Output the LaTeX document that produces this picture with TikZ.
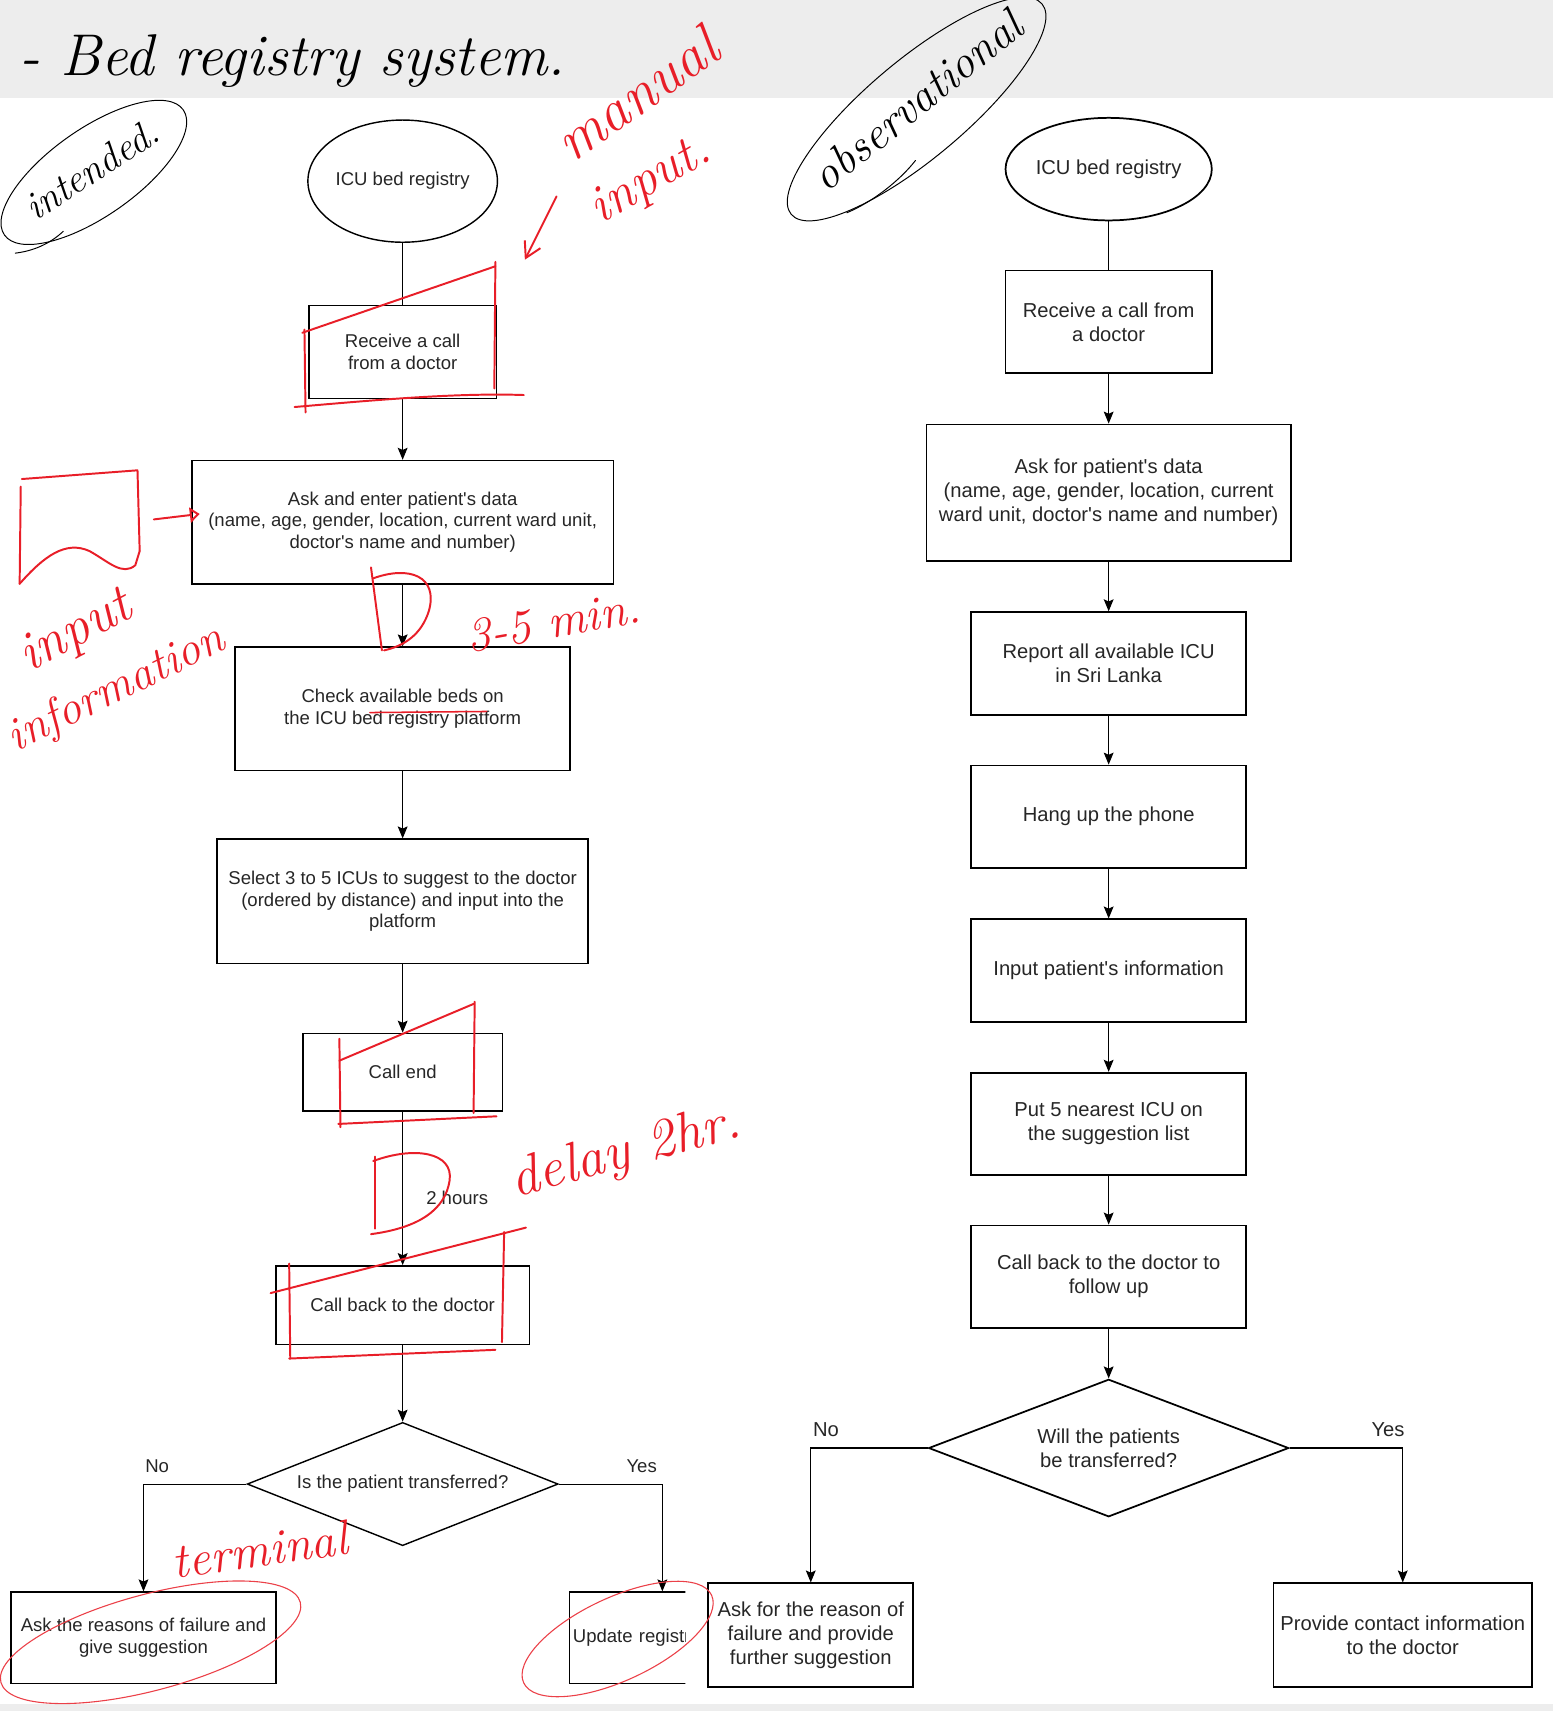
\documentclass[tikz,border=0pt]{standalone}
\usepackage{fontspec}
\newfontfamily\flowfont{Liberation Sans}
\usetikzlibrary{shapes.geometric,arrows.meta}
\definecolor{inkred}{RGB}{232,30,40}
\definecolor{band}{RGB}{237,237,237}
\def\lcol{369}
\def\rcol{1016}

\begin{document}
\begin{tikzpicture}[x=1pt,y=-1pt,
  lbox/.style={draw, line width=1.3pt, align=center, inner sep=2pt, text=black!85, font=\flowfont\fontsize{17}{20}\selectfont},
  rbox/.style={draw, line width=1.6pt, align=center, inner sep=2pt, text=black!85, font=\flowfont\fontsize{18.5}{22}\selectfont},
  flow/.style={line width=1pt, -{Stealth[length=11pt,width=9pt,inset=2pt]}},
  link/.style={line width=1pt},
  lbl/.style={font=\flowfont\fontsize{17}{18}\selectfont, text=black!85, inner sep=0},
  redpen/.style={draw=inkred, line width=1.8pt, line cap=round, line join=round},
  redthin/.style={draw=inkred!85, line width=1pt},
  blackpen/.style={draw=black, line width=1.1pt, line cap=round},
  hand/.style={font=\itshape\fontsize{#1}{#1}\selectfont, inner sep=0}]
\useasboundingbox (0,0) rectangle (1423,1568);
\fill[band] (0,0) rectangle (1423,90);
\fill[band] (0,1562) rectangle (1423,1568);

% intended flow
\node[lbox, ellipse, inner sep=0, minimum width=172, minimum height=112] (lreg) at (\lcol,166) {ICU bed registry};
\node[lbox, minimum width=172, minimum height=85] (lcall) at (\lcol,322.5) {Receive a call\\from a doctor};
\node[lbox, minimum width=386, minimum height=113] (lask) at (\lcol,478.5) {Ask and enter patient's data\\(name, age, gender, location, current ward unit,\\doctor's name and number)};
\node[lbox, minimum width=307, minimum height=113] (lcheck) at (\lcol,649.5) {Check available beds on\\the ICU bed registry platform};
\node[lbox, minimum width=340, minimum height=114] (lsel) at (\lcol,826) {Select 3 to 5 ICUs to suggest to the doctor\\(ordered by distance) and input into the\\platform};
\node[lbox, minimum width=183, minimum height=71] (lend) at (\lcol,982.5) {Call end};
\node[lbox, minimum width=232, minimum height=72] (lback) at (\lcol,1196) {Call back to the doctor};
\node[lbox, diamond, shape aspect=2.52, minimum width=285, minimum height=113, inner sep=0] (ldec) at (\lcol,1360) {Is the patient transferred?};
\node[lbox, minimum width=243, minimum height=84] (lfail) at (131.5,1501) {Ask the reasons of failure and\\give suggestion};
\begin{scope}
\clip (0,1440) rectangle (628,1568);
\node[lbox, minimum width=170, minimum height=84, text width=164, align=left] (lupd) at (607,1501) {Update registry};
\end{scope}

\draw[link] (lreg) -- (lcall);
\draw[flow] (lcall) -- (lask);
\draw[flow] (lask) -- (lcheck);
\draw[flow] (lcheck) -- (lsel);
\draw[flow] (lsel) -- (lend);
\draw[flow] (lend) -- (lback);
\draw[flow] (lback) -- (ldec);
\draw[flow] (ldec.west) -| (lfail.north);
\draw[flow] (ldec.east) -| (lupd.north);
\node[lbl] (ltwo) at (419,1098) {2 hours};
\node[lbl] (lno) at (144,1344) {No};
\node[lbl] (lyes) at (588,1344) {Yes};

% observational flow
\node[rbox, ellipse, inner sep=0, minimum width=189, minimum height=94] (rreg) at (\rcol,155) {ICU bed registry};
\node[rbox, minimum width=189, minimum height=94] (rcall) at (\rcol,295) {Receive a call from\\a doctor};
\node[rbox, minimum width=334, minimum height=125] (rask) at (\rcol,451.5) {Ask for patient's data\\(name, age, gender, location, current\\ward unit, doctor's name and number)};
\foreach \n/\y/\t in {rrep/608/{Report all available ICU\\in Sri Lanka},
                      rhang/748.5/{Hang up the phone},
                      rinput/889.5/{Input patient's information},
                      rput/1030/{Put 5 nearest ICU on\\the suggestion list},
                      rback/1170/{Call back to the doctor to\\follow up}} {
  \node[rbox, minimum width=252, minimum height=94] (\n) at (\rcol,\y) {\t};
}
\node[rbox, diamond, shape aspect=2.62, minimum width=330, minimum height=126, inner sep=0] (rdec) at (\rcol,1327) {Will the patients\\be transferred?};
\node[rbox, minimum width=188, minimum height=95] (rfail) at (743,1498.5) {Ask for the reason of\\failure and provide\\further suggestion};
\node[rbox, minimum width=237, minimum height=95] (rinfo) at (1285.5,1498.5) {Provide contact information\\to the doctor};

\draw[link] (rreg) -- (rcall);
\foreach \a/\b in {rcall/rask, rask/rrep, rrep/rhang, rhang/rinput, rinput/rput, rput/rback, rback/rdec}
  \draw[flow] (\a) -- (\b);
\draw[flow] (rdec.west) -| (rfail.north);
\draw[flow] (rdec.east) -| (rinfo.north);
\node[lbl, font=\flowfont\fontsize{18.5}{20}\selectfont] (rno) at (757,1310) {No};
\node[lbl, font=\flowfont\fontsize{18.5}{20}\selectfont] (ryes) at (1272,1310) {Yes};

% black pen notes
\node[hand=54] (title) at (268,56) {- Bed registry system.};
\node[hand=36, rotate=33] (intended) at (84,155) {intended.};
\draw[blackpen, line width=0.9pt, rotate around={35:(86,158)}] (86,158) ellipse [x radius=100, y radius=40];
\draw[blackpen, line width=0.9pt] (14,232) .. controls (30,230) and (45,224) .. (58,212);
\node[hand=42, rotate=39] (observ) at (840,92) {observational};
\draw[blackpen, line width=0.9pt, rotate around={40:(840,100)}] (840,100) ellipse [x radius=150, y radius=45];
\draw[blackpen, line width=0.9pt] (776,195) .. controls (800,185) and (825,165) .. (839,147);

% red pen notes
\node[hand=54, rotate=35, text=inkred] (manual) at (583,86) {manual};
\node[hand=48, rotate=30, text=inkred] (minput) at (597,166) {input.};
\draw[redpen, -{Straight Barb[length=14pt,width=16pt]}] (510,180) -- (481,238);
\draw[redpen] (277,305) -- (454,244);
\draw[redpen] (454,240) -- (453,356);
\draw[redpen] (279,302) -- (280,378);
\draw[redpen] (270,373) .. controls (350,366) and (420,360) .. (480,362);

\draw[redpen] (20,439) -- (126,431) -- (128,505);
\draw[redpen] (19,446) -- (18,535);
\draw[redpen] (18,535) .. controls (40,510) and (60,495) .. (82,505) .. controls (100,515) and (112,528) .. (124,518) -- (128,505);
\draw[redpen, -{Triangle[open,length=9pt,width=14pt]}] (141,476) -- (183,471);
\node[hand=50, rotate=28, text=inkred] (rinputw) at (70,580) {input};
\node[hand=43, rotate=26, text=inkred] (rinfow) at (107,632) {information};

\draw[redpen] (340,520) -- (350,596);
\draw[redpen] (342,530) .. controls (375,518) and (402,528) .. (393,560) .. controls (386,582) and (370,592) .. (352,596);
\node[hand=44, rotate=10, text=inkred] (mins) at (507,570) {3-5 min.};
\draw[redpen, line width=1.4pt] (339,653) -- (446,652);

\draw[redpen] (311,972) -- (434,920);
\draw[redpen] (435,918) -- (434,1020);
\draw[redpen] (311,952) -- (312,1033);
\draw[redpen] (310,1030) -- (455,1023);

\draw[redpen] (344,1060) -- (344,1126);
\draw[redpen] (342,1064) .. controls (380,1050) and (416,1056) .. (412,1082) .. controls (408,1108) and (385,1125) .. (340,1131);
\node[hand=51, rotate=15, text=inkred] (delay) at (574,1057) {delay 2hr.};

\draw[redpen] (248,1185) -- (482,1125);
\draw[redpen] (462,1129) -- (460,1230);
\draw[redpen] (265,1158) -- (266,1245);
\draw[redpen] (265,1245) -- (454,1237);

\node[hand=45, rotate=8, text=inkred] (termw) at (238,1420) {terminal};
\draw[redthin, rotate around={15:(138,1505)}] (138,1505) ellipse [x radius=142, y radius=44];
\draw[redthin, rotate around={25:(566,1502)}] (566,1502) ellipse [x radius=95, y radius=38];
\end{tikzpicture}
\end{document}
